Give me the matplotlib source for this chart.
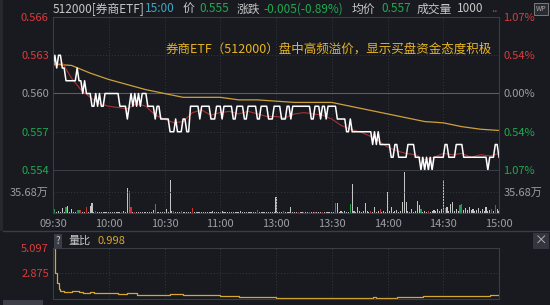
import numpy as np
import matplotlib
matplotlib.use("Agg")
import matplotlib.pyplot as plt
from matplotlib.patches import Rectangle

plt.rcParams['font.family'] = ['Noto Sans CJK SC', 'DejaVu Sans']

# ---- data ----
prev_close = 0.560
time_ticks = [0, 30, 60, 90, 120, 150, 180, 210, 240]
time_labels = ["09:30", "10:00", "10:30", "11:00", "13:00", "13:30", "14:00", "14:30", "15:00"]
price_ticks = [0.554, 0.557, 0.560, 0.563, 0.566]

# last price per minute, as runs: level (in 0.001) and how many minutes it holds
price_levels = [562, 563, 562, 563, 562, 561, 562, 561, 560, 561,
                560, 559, 560, 559, 560, 559, 560, 559, 558, 559,
                560, 559, 560, 559, 560, 559, 560, 559, 558, 559,
                558, 557, 558, 557, 558, 557, 559, 558, 559, 558,
                559, 558, 559, 558, 559, 558, 559, 558, 559, 558,
                559, 558, 559, 558, 559, 558, 559, 558, 559, 558,
                559, 558, 557, 558, 557, 556, 557, 556, 557, 556,
                555, 556, 555, 556, 555, 554, 555, 554, 555, 554,
                555, 554, 555, 556, 555, 556, 555, 554, 555, 556,
                555]
price_runs = [1, 1, 1, 2, 2, 6, 1, 2, 1, 1,
              3, 2, 1, 1, 1, 2, 8, 4, 1, 1,
              1, 1, 1, 1, 1, 1, 3, 4, 1, 2,
              5, 3, 1, 3, 2, 2, 5, 1, 5, 3,
              3, 1, 5, 2, 4, 2, 5, 2, 4, 3,
              4, 3, 2, 1, 10, 2, 3, 1, 2, 1,
              5, 5, 2, 1, 11, 1, 1, 1, 1, 6,
              2, 2, 5, 4, 3, 1, 1, 1, 1, 1,
              1, 1, 6, 2, 4, 4, 13, 1, 3, 2,
              1]

# IOPV (thin red line), every 5 minutes
iopv_min = list(range(0, 241, 5))
iopv = [0.5622, 0.5624, 0.5612, 0.5603, 0.5597, 0.5592, 0.5590, 0.5589, 0.5588, 0.5592,
        0.5590, 0.5583, 0.5580, 0.5577, 0.5578, 0.5585, 0.5587, 0.5583, 0.5585, 0.5586,
        0.5584, 0.5586, 0.5584, 0.5582, 0.5582, 0.5581, 0.5584, 0.5585, 0.5584, 0.5583,
        0.5580, 0.5575, 0.5572, 0.5570, 0.5567, 0.5563, 0.5558, 0.5555, 0.5553, 0.5552,
        0.5548, 0.5550, 0.5553, 0.5552, 0.5553, 0.5550, 0.5552, 0.5551, 0.5553]

# average price (gold line), every 10 minutes
avg_min = list(range(0, 241, 10))
avg_price = [0.5623, 0.5622, 0.5616, 0.5611, 0.5607, 0.5603, 0.5600, 0.5597, 0.5597, 0.5597,
             0.5595, 0.5595, 0.5594, 0.5593, 0.5593, 0.5593, 0.5590, 0.5587, 0.5584, 0.5581,
             0.5578, 0.5577, 0.5574, 0.5572, 0.5571]

# volume per minute (万) and bar colour r/g/w
vol = [33.5, 6, 2, 4, 2, 8, 2, 10, 12, 2,
       6, 2, 2, 5, 5, 5, 2, 2, 11, 2,
       12, 17, 2, 3, 1.5, 2, 1.5, 2, 1.5, 2,
       1.5, 2, 1.5, 2, 1.5, 2, 1.5, 2, 3, 2,
       42, 38, 10, 2, 2, 1.5, 2, 2, 1.5, 2,
       2, 1.5, 2, 2, 5, 16, 2, 1.5, 2, 2,
       2, 6, 2, 56, 3, 4, 2, 1.5, 2, 3,
       2, 1.5, 2, 1.5, 2, 8, 2, 1.5, 2, 1.5,
       2, 1.5, 2, 1.5, 2, 1.5, 3, 1.5, 2, 1.5,
       2, 3, 1.5, 2, 1.5, 2, 1.5, 2, 1.5, 2,
       2, 3, 1.5, 2, 1.5, 2, 1.5, 2, 1.5, 2,
       5, 2, 1.5, 2, 1.5, 2, 1.5, 2, 1.5, 2,
       27.7, 2, 2, 1.5, 4, 2, 1.5, 2, 10, 2,
       2, 1.5, 2, 2, 1.5, 2, 2, 1.5, 2, 2,
       1.5, 2, 2, 1.5, 2, 2, 1.5, 2, 2, 1.5,
       2, 2, 17, 17, 2, 3, 2, 3, 2, 2,
       16, 50, 3, 2, 10, 3, 2, 3, 17, 3,
       2, 4, 2, 10, 2, 3, 6, 2, 3, 2,
       36, 3, 10, 2, 3, 5, 2, 3, 18, 70,
       18, 3, 2, 6, 2, 3, 20, 14, 6, 2,
       3, 2, 3, 2, 3, 5, 3, 6, 3, 6,
       56, 8, 10, 4, 16, 18, 4, 6, 4, 14,
       16, 5, 9, 5, 10, 5, 6, 4, 5, 9,
       4, 6, 4, 10, 4, 5, 6, 4, 14, 6, 4]
vol_col = ("rgwwwwwgww" "wwwrgrwwrw" "wwwrwwwwww" "wwwwwwwrww" "wgrwrwwwww"
           "wwwwwgwwww" "wwwwwgwwwr" "wwwwwrwwww" "wwwwwwwwww" "wwwwwwwwww"
           "wwwwwwwwww" "rwwwwwwwww" "wwwwgwwwww" "wwrwwgwwrw" "wrwwwrwwww"
           "wwgwwwwwww" "gwwwwwwwww" "wrwwwwrwww" "wwwwwwwwww" "wwwwwwwwgw"
           "wwrwwwwwww" "wrwwwwwwwg" "gwwwwwwwww" "wwwwwwrwrww")
vol_ref = 35.68

# volume ratio (量比)
ratio_min = [0, 1, 2, 3, 4, 6, 8, 10, 12, 14, 16, 18, 20, 22, 25, 30, 35, 39, 40, 42, 45, 50,
             55, 60, 63, 65, 70, 80, 90, 100, 110, 120, 130, 136, 150, 163, 170, 172, 174, 183,
             185, 192, 199, 210, 220, 231, 235, 240]
ratio = [5.097, 2.875, 1.99, 1.45, 1.30, 1.22, 1.25, 1.35, 1.30, 1.22, 1.18, 1.17, 1.20, 1.17,
         1.12, 1.10, 1.05, 1.04, 1.13, 1.10, 1.00, 0.98, 0.97, 0.96, 1.05, 1.02, 0.98, 0.95,
         0.85, 0.80, 0.76, 0.72, 0.70, 0.68, 0.67, 0.68, 0.72, 0.78, 0.72, 0.72, 0.78, 0.80,
         0.86, 0.87, 0.88, 0.88, 0.99, 1.00]

# ---- style ----
BG = '#181a20'
GRID = '#343740'
FRAME = '#3a3d46'
RED = '#dc3b3b'
GREEN = '#22a84f'
GREY = '#9b9da4'
GOLD = '#d9a62e'
bar_colors = {'r': '#c83232', 'g': '#1f9d46', 'w': '#c4c4c4'}

price = np.repeat(np.array(price_levels) / 1000.0, price_runs)
minutes = np.arange(len(price))

fig = plt.figure(figsize=(5.5, 3.05), dpi=100, facecolor=BG)
W, H = 550, 305


def box(x0, y0, x1, y1):
    return [x0 / W, 1 - y1 / H, (x1 - x0) / W, (y1 - y0) / H]


def style(ax):
    ax.set_facecolor(BG)
    for s in ax.spines.values():
        s.set_color(FRAME)
        s.set_linewidth(0.8)
    ax.tick_params(length=0, colors=GREY, labelsize=8)
    ax.set_xlim(0, 240)
    for t in time_ticks[1:-1]:
        ax.axvline(t, color=GRID, lw=0.7, ls=(0, (1, 2)))


# main price panel
ax = fig.add_axes(box(53, 17, 499, 170))
style(ax)
ax.set_ylim(0.554, 0.566)
for p in price_ticks[1:-1]:
    if p == prev_close:
        ax.axhline(p, color='#5a5d66', lw=0.8)
    else:
        ax.axhline(p, color=GRID, lw=0.7, ls=(0, (1, 2)))
ax.plot(avg_min, avg_price, color='#cfa03a', lw=0.9)
ax.plot(iopv_min, iopv, color='#a83232', lw=0.8)
ax.plot(minutes, price, color='white', lw=1.1)
ax.set_xticks([])
ax.set_yticks(price_ticks)
ax.set_yticklabels([f"{p:.3f}" for p in price_ticks])
pcols = [GREEN if p < prev_close - 1e-9 else RED if p > prev_close + 1e-9 else GREY for p in price_ticks]
for lab, c in zip(ax.get_yticklabels(), pcols):
    lab.set_color(c)
ax.tick_params(axis='y', pad=3)
ax2 = ax.twinx()
ax2.set_ylim(ax.get_ylim())
ax2.set_yticks(price_ticks)
ax2.set_yticklabels([f"{abs(p - prev_close) / prev_close * 100:.2f}%" for p in price_ticks])
for lab, c in zip(ax2.get_yticklabels(), pcols):
    lab.set_color(c)
ax2.tick_params(length=0, labelsize=8, pad=3)
for s in ax2.spines.values():
    s.set_visible(False)

# volume panel
axv = fig.add_axes(box(53, 171, 499, 213))
style(axv)
axv.set_ylim(0, vol_ref * 2)
axv.axhline(vol_ref, color=GRID, lw=0.7, ls=(0, (1, 2)))
axv.bar(minutes, vol, width=0.6, color=[bar_colors[c] for c in vol_col], linewidth=0)
axv.set_xticks(time_ticks)
axv.set_xticklabels(time_labels)
axv.tick_params(axis='x', pad=4)
axv.set_yticks([vol_ref])
axv.set_yticklabels(["35.68万"])
axv.tick_params(axis='y', pad=3)
axv.spines['top'].set_visible(False)
axv2 = axv.twinx()
axv2.set_ylim(axv.get_ylim())
axv2.set_yticks([vol_ref])
axv2.set_yticklabels(["35.68万"])
axv2.tick_params(length=0, labelsize=8, colors=GREY, pad=3)
for s in axv2.spines.values():
    s.set_visible(False)

# volume ratio panel
axr = fig.add_axes(box(53, 248, 499, 298.5))
style(axr)
axr.set_ylim(0.653, 5.097)
axr.axhline(2.875, color=GRID, lw=0.7, ls=(0, (1, 2)))
axr.plot(ratio_min, ratio, color=GOLD, lw=0.9, drawstyle='steps-post')
axr.set_xticks([])
axr.set_yticks([2.875, 5.097])
axr.set_yticklabels(["2.875", "5.097"])
for lab in axr.get_yticklabels():
    lab.set_color(RED)
axr.tick_params(axis='y', pad=3)

# separator lines and small decorations
fig.add_artist(plt.Line2D([3 / W, 1], [1 - 231 / H] * 2, color=FRAME, lw=1))
fig.add_artist(Rectangle((0, 1 - 231 / H), 3 / W, 231 / H, color='#26282e', lw=0))
fig.add_artist(Rectangle((3 / W, 0), 40 / W, 5 / H, color='#3c3f47', lw=0))

# header line
hy = 1 - 9 / H
header = [("512000[券商ETF]", 53, '#c8c8c8'), ("15:00", 145, '#3fa6bf'), ("价", 183, '#c8c8c8'),
          ("0.555", 199, GREEN), ("涨跌", 237, '#c8c8c8'), ("-0.005(-0.89%)", 263, GREEN),
          ("均价", 352, '#c8c8c8'), ("0.557", 381, GREEN), ("成交量", 417, '#c8c8c8'),
          ("1000", 457, '#c8c8c8'), ("..", 491, RED)]
for txt, x, c in header:
    fig.text(x / W, hy, txt, color=c, fontsize=8.5, ha='left', va='center')
fig.text(541 / W, hy, "WP", color='#aaaaaa', fontsize=5, ha='center', va='center',
         bbox=dict(boxstyle='square,pad=0.25', fc='#2a2c33', ec='#888888', lw=0.6))

fig.text(166 / W, 1 - 49.5 / H, "券商ETF（512000）盘中高频溢价，显示买盘资金态度积极",
         color='#e8b526', fontsize=9.0, ha='left', va='center')

# ratio header
ry = 1 - 241 / H
fig.text(58 / W, ry, "?", color='#cccccc', fontsize=7, ha='center', va='center',
         bbox=dict(boxstyle='square,pad=0.2', fc='#3a3d45', ec='none'))
fig.text(68 / W, ry, "量比", color='#c8c8c8', fontsize=8, ha='left', va='center')
fig.text(98 / W, ry, "0.998", color=GOLD, fontsize=8, ha='left', va='center')
fig.text(541 / W, ry, "×", color='#bbbbbb', fontsize=9, ha='center', va='center',
         bbox=dict(boxstyle='square,pad=0.15', fc='#33363e', ec='none'))

fig.savefig("out.png", dpi=100, facecolor=BG)
